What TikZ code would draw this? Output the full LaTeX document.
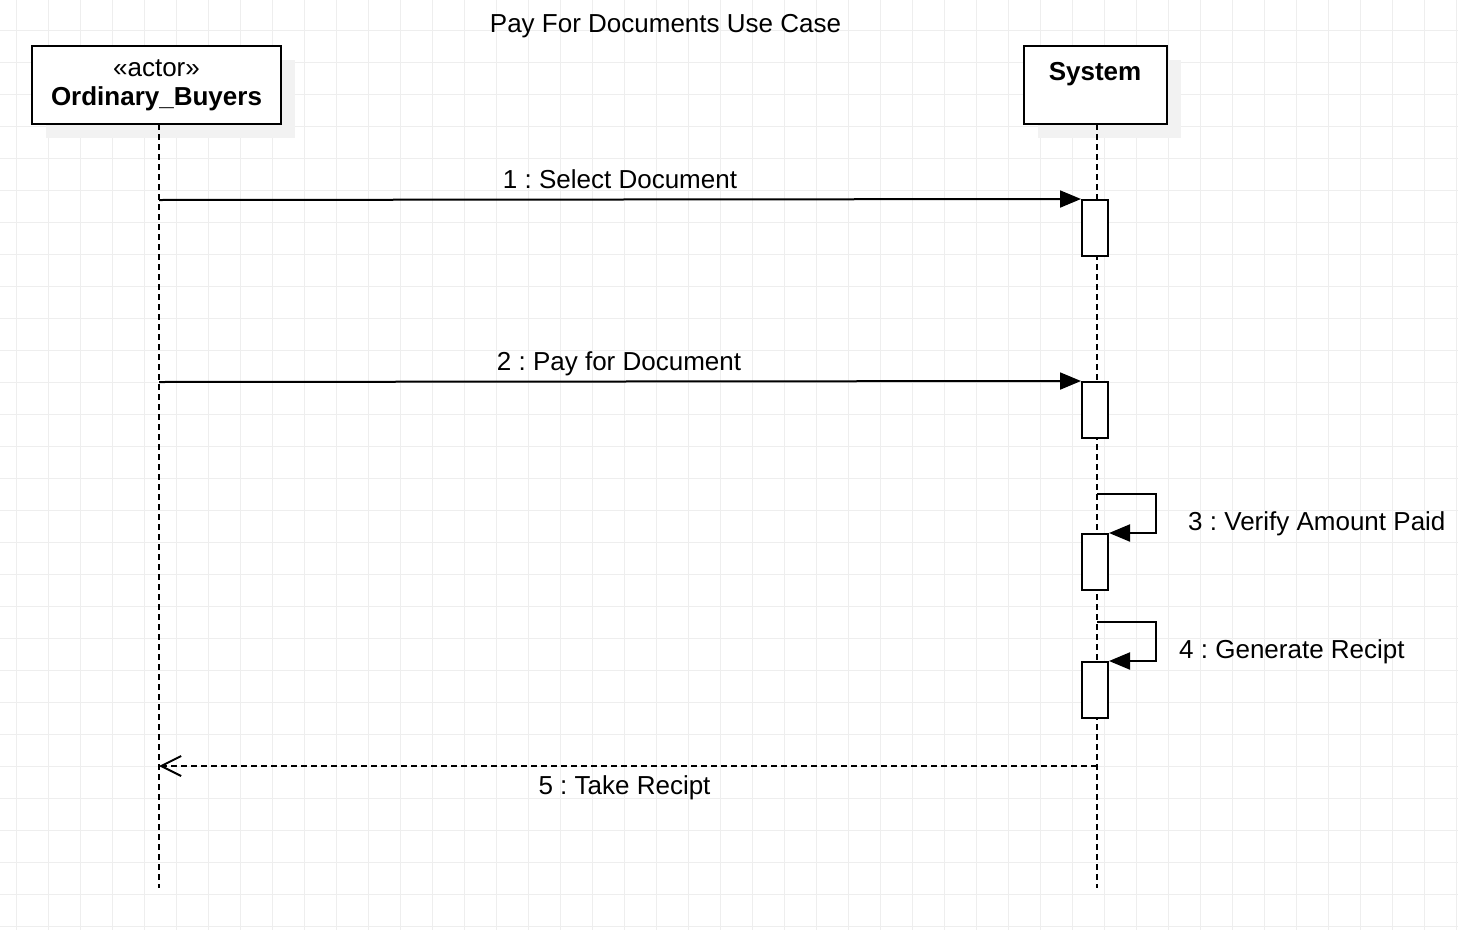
\documentclass[tikz,border=0pt]{standalone}
\usepackage{fontspec}
\setmainfont{Liberation Sans}
\usetikzlibrary{arrows.meta}
\definecolor{gridc}{RGB}{238,238,238}
\definecolor{shadowc}{RGB}{242,242,242}
\frenchspacing
\begin{document}
\begin{tikzpicture}[x=1bp,y=-1bp,
  lbl/.style={font=\fontsize{26bp}{30bp}\selectfont, inner sep=0pt, anchor=base},
  boldlbl/.style={lbl, font=\fontsize{26bp}{30bp}\selectfont\bfseries},
  headbox/.style={draw, line width=2bp, fill=white, inner sep=0pt, minimum height=78bp},
  shadowbox/.style={fill=shadowc, draw=none},
  lifeline/.style={line width=2bp, dash pattern=on 6bp off 4bp},
  actbox/.style={draw, line width=2bp, fill=white, inner sep=0pt, minimum width=26bp, minimum height=56bp},
  msg/.style={line width=2bp, -{Triangle[length=21bp,width=17bp]}},
  ret/.style={line width=2bp, dash pattern=on 6bp off 4bp, -{Straight Barb[length=20bp,width=20bp,line width=2bp]}},
  gridline/.style={draw=gridc, line width=1bp}]
\useasboundingbox (0,0) rectangle (1458,930);
\fill[white] (0,0) rectangle (1458,930);
% grid
\foreach \i in {0,...,45} { \draw[gridline] ({16+32*\i},0) -- ({16+32*\i},930); }
\foreach \j in {0,...,28} { \draw[gridline] (0,{30+32*\j}) -- (1458,{30+32*\j}); }
% title
\node[lbl] (title) at (665.5,32) {Pay For Documents Use Case};
% shadows
\fill[shadowbox] (46,60) rectangle (295,138);
\fill[shadowbox] (1038,60) rectangle (1181,138);
% lifelines
\coordinate (aTop) at (159,124);
\coordinate (aBot) at (159,888);
\coordinate (sTop) at (1097,124);
\coordinate (sBot) at (1097,888);
\draw[lifeline] (aTop) -- (aBot);
\draw[lifeline] (sTop) -- (sBot);
% header boxes
\node[headbox, minimum width=249bp] (actor) at (156.5,85) {};
\node[headbox, minimum width=143bp] (system) at (1095.5,85) {};
\node[lbl] (actorst) at (156.5,76) {«actor»};
\node[boldlbl] (actorname) at (156.5,105) {Ordinary\_Buyers};
\node[boldlbl] (systemname) at (1095,80) {System};
% activations
\node[actbox] (a1) at (1095,228) {};
\node[actbox] (a2) at (1095,410) {};
\node[actbox] (a3) at (1095,562) {};
\node[actbox] (a4) at (1095,690) {};
% messages
\coordinate (m1) at (159,200);
\coordinate (m2) at (159,382);
\coordinate (m3) at (1097,494);
\coordinate (m4) at (1097,622);
\coordinate (r5s) at (1097,766);
\coordinate (r5e) at (159,766);
\draw[msg] (m1) -- (a1.north west);
\draw[msg] (m2) -- (a2.north west);
\draw[msg] (m3) -- ++(59,0) |- (a3.north east);
\draw[msg] (m4) -- ++(59,0) |- (a4.north east);
\draw[ret] (r5s) -- (r5e);
% labels
\node[lbl] (l1) at (620,188) {1 : Select Document};
\node[lbl] (l2) at (619,370) {2 : Pay for Document};
\node[lbl, anchor=base west] (l3) at (1188,530) {3 : Verify Amount Paid};
\node[lbl, anchor=base west] (l4) at (1179,658) {4 : Generate Recipt};
\node[lbl] (l5) at (624.5,794) {5 : Take Recipt};
\end{tikzpicture}
\end{document}
